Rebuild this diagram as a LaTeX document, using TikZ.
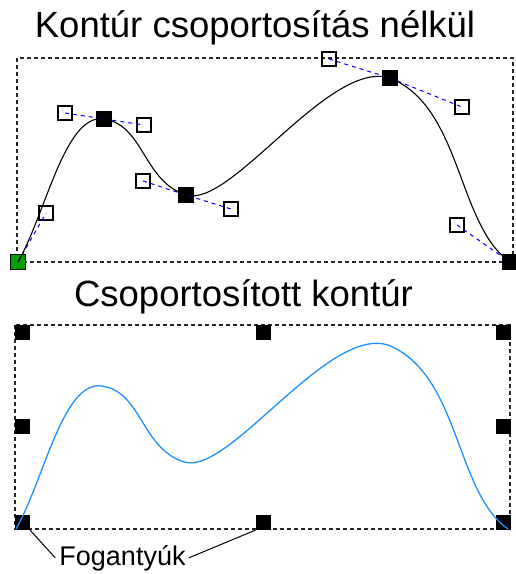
\documentclass[tikz,border=0pt]{standalone}
\usepackage{fontspec}
\setmainfont{Liberation Sans}
\definecolor{curveblue}{RGB}{30,144,255}
\definecolor{startgreen}{RGB}{0,160,0}
\begin{document}
\begin{tikzpicture}[x=1pt, y=-1pt, knot/.style={rectangle, draw, fill=black, minimum size=15pt, inner sep=0pt, line width=0.8pt}, ctrl/.style={rectangle, draw, minimum size=14pt, inner sep=0pt, line width=1.2pt}, grip/.style={rectangle, fill=black, minimum size=15pt, inner sep=0pt}, frame/.style={black!85, line width=1.2pt, dash pattern=on 4pt off 3pt}, tangent/.style={blue, line width=1pt, dash pattern=on 4pt off 4pt}, heading/.style={anchor=base, inner sep=0pt, font=\fontsize{36.5}{40}\selectfont}]
		\useasboundingbox (0,0) rectangle (515,574);
		\node[heading] (title1) at (255,37) {Kontúr csoportosítás nélkül};
		\node[heading] (title2) at (243.5,306) {Csoportosított kontúr};
		% without grouping
		\draw[frame] (17,58) rectangle (513,262);
		\node[knot, fill=startgreen] (s) at (18,262) {};
		\node[ctrl] (c1) at (46,213) {};
		\node[ctrl] (c2) at (65,113) {};
		\node[knot] (a1) at (104,119) {};
		\node[ctrl] (c3) at (144,125) {};
		\node[ctrl] (c4) at (143,181) {};
		\node[knot] (a2) at (186,195) {};
		\node[ctrl] (c5) at (231,209) {};
		\node[ctrl] (c6) at (329,59) {};
		\node[knot] (a3) at (390,78) {};
		\node[ctrl] (c7) at (462,107) {};
		\node[ctrl] (c8) at (457,225) {};
		\node[knot] (e) at (510,262) {};
		\draw[tangent] (s.center) -- (c1.center);
		\draw[tangent] (c2.center) -- (a1.center) -- (c3.center);
		\draw[tangent] (c4.center) -- (a2.center) -- (c5.center);
		\draw[tangent] (c6.center) -- (a3.center) -- (c7.center);
		\draw[tangent] (c8.center) -- (e.center);
		\draw[line width=1.1pt] (s.center) .. controls (c1.center) and (c2.center) .. (a1.center)
			.. controls (c3.center) and (c4.center) .. (a2.center)
			.. controls (c5.center) and (c6.center) .. (a3.center)
			.. controls (c7.center) and (c8.center) .. (e.center);
		% grouped
		\draw[frame] (15,325) rectangle (510,529);
		\node[grip] (tl) at (22.5,332.5) {};
		\node[grip] (tm) at (263,332.5) {};
		\node[grip] (tr) at (503.5,332.5) {};
		\node[grip] (ml) at (22.5,426) {};
		\node[grip] (mr) at (503.5,426) {};
		\node[grip] (bl) at (22.5,522.5) {};
		\node[grip] (bm) at (263,522.5) {};
		\node[grip] (br) at (503.5,522.5) {};
		\draw[curveblue, line width=1.3pt] (16,529) .. controls (44,480) and (63,380) .. (102,386)
			.. controls (142,392) and (141,448) .. (184,462)
			.. controls (229,476) and (327,326) .. (388,345)
			.. controls (460,374) and (455,492) .. (508,529);
		\node[anchor=base, font=\fontsize{27}{30}\selectfont, inner sep=0pt] (fog) at (122.5,565) {Fogantyúk};
		\draw[line width=1pt] ([xshift=-4pt]fog.west) -- (bl.south east);
		\draw[line width=1pt] ([xshift=3pt]fog.east) -- (bm.south west);
	\end{tikzpicture}
\end{document}
